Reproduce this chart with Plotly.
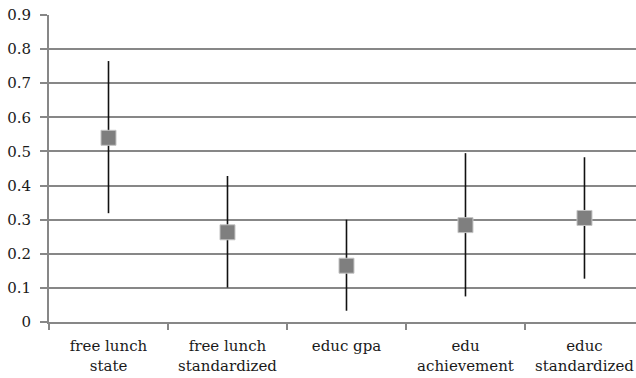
import plotly.graph_objects as go

# Estimates with lower/upper bounds for each outcome measure
categories = ["free lunch<br>state", "free lunch<br>standardized", "educ gpa",
              "edu<br>achievement", "educ<br>standardized"]
estimate = [0.54, 0.263, 0.165, 0.284, 0.305]
lower = [0.319, 0.101, 0.033, 0.075, 0.127]
upper = [0.765, 0.428, 0.300, 0.495, 0.483]

err_plus = [u - e for u, e in zip(upper, estimate)]
err_minus = [e - l for e, l in zip(estimate, lower)]

grid = "#878787"
serif = "DejaVu Serif"

fig = go.Figure(go.Scatter(
    x=categories, y=estimate, mode="markers",
    marker=dict(symbol="square", size=15, color="#7f7f7f",
                line=dict(color="#c4c4c4", width=1)),
    error_y=dict(type="data", symmetric=False, array=err_plus, arrayminus=err_minus,
                 width=0, thickness=1.6, color="#111111"),
    showlegend=False,
))

fig.update_layout(
    width=636, height=378,
    margin=dict(l=49, r=0, t=15, b=56),
    paper_bgcolor="white", plot_bgcolor="white",
    font=dict(family=serif, size=15, color="#1a1a1a"),
)
fig.update_xaxes(
    type="category", categoryorder="array", categoryarray=categories,
    range=[-0.5, 4.433], tickson="boundaries", ticks="outside", ticklen=6,
    tickcolor=grid, tickwidth=2, showline=True, linecolor=grid, linewidth=2,
    showgrid=False, tickfont=dict(family=serif, size=15), ticklabelstandoff=9,
)
fig.update_yaxes(
    range=[0, 0.9], dtick=0.1, tick0=0, ticks="outside", ticklen=7,
    tickcolor=grid, tickwidth=2, showline=True, linecolor=grid, linewidth=2,
    showgrid=True, gridcolor=grid, gridwidth=2, zeroline=False,
    tickfont=dict(family=serif, size=15), ticklabelstandoff=6,
)

fig.write_html("out.html")
